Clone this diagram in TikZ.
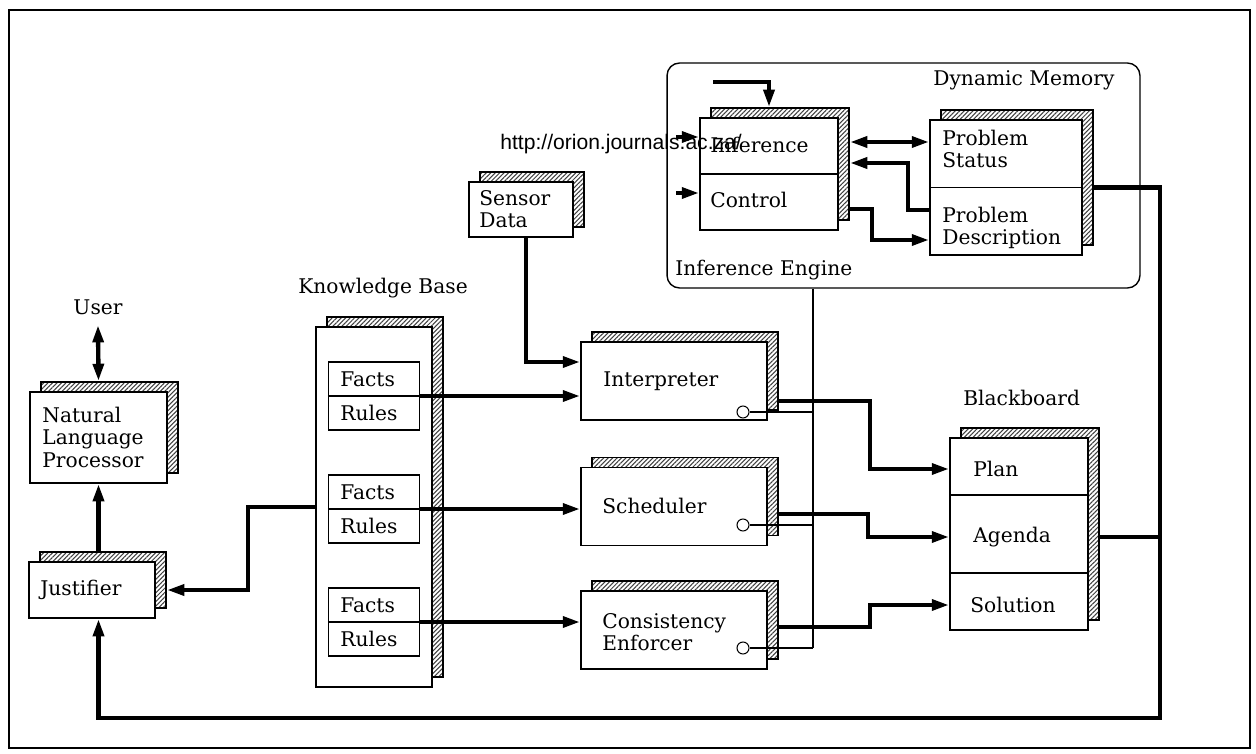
\documentclass[tikz,border=0pt]{standalone}
\usepackage{fontspec}
\setmainfont{DejaVu Serif}
\newfontfamily\urlfont{Liberation Sans}
\usetikzlibrary{arrows.meta,shadows,patterns.meta}

\tikzset{
  >={Triangle[length=10pt,width=6pt]},
  box/.style={draw, line width=0.8pt, fill=white, inner sep=0pt},
  shbox/.style={box, general shadow={shadow xshift=0.22cm, shadow yshift=0.2cm, draw, line width=0.8pt,
      pattern={Lines[angle=45,distance=1.8pt,line width=0.6pt]}, pattern color=black!75}},
  txt/.style={anchor=west, align=left, inner sep=0pt},
  heavy/.style={line width=2.5pt},
  fine/.style={line width=0.6pt},
  sep/.style={line width=0.8pt},
  port/.style={circle, draw, fine, fill=white, minimum size=0.24cm, inner sep=0pt},
  every node/.append style={font=\fontsize{11.5}{12.8}\selectfont}
}

\begin{document}
\begin{tikzpicture}[x=0.02cm, y=-0.02cm]
\useasboundingbox (0,0) rectangle (1256,753);
\draw[line width=0.7pt] (9,10) rectangle (1250,748);

% inference engine with dynamic memory
\node[draw, line width=0.8pt, rounded corners=0.25cm, minimum width=9.46cm, minimum height=4.5cm] (ie) at (903.5,175.5) {};
\node[txt] (dm) at (933,80) {Dynamic Memory};
\node[txt] (ien) at (675,270) {Inference Engine};

\node[shbox, minimum width=2.76cm, minimum height=2.24cm] (ic) at (769,174) {};
\draw[sep] (ic.west) -- (ic.east);
\node[txt] (inf) at (710,145) {Inference};
\node[txt] (ctl) at (710,200) {Control};

\node[shbox, minimum width=3.04cm, minimum height=2.7cm] (pb) at (1006,187.5) {};
\draw[sep] (pb.west) -- (pb.east);
\node[txt] (pst) at (942,149) {Problem\\Status};
\node[txt] (pds) at (942,228) {Problem\\Description};

\coordinate (ctlin) at (713,82);
\coordinate (infin) at (676,137);
\coordinate (ctrin) at (676,193);
\draw[heavy,->] (ctlin) -| ([yshift=0.2cm]ic.north);
\draw[heavy,->] (infin) -- (infin -| ic.west);
\draw[heavy,->] (ctrin) -- (ctrin -| ic.west);
\draw[heavy,<->] ([xshift=0.22cm]ic.east |- 0,142) -- (pb.west |- 0,142);
\draw[heavy,->] (pb.west |- 0,210) -| (908,163) -- ([xshift=0.22cm]ic.east |- 0,163);
\draw[heavy,->] ([xshift=0.22cm]ic.east |- 0,209) -| (872,240) -- (pb.west |- 0,240);

% sensor data
\node[shbox, minimum width=2.08cm, minimum height=1.1cm] (sd) at (521,209.5) {};
\node[txt] (sdt) at (479,209) {Sensor\\Data};

% processors
\node[shbox, minimum width=3.72cm, minimum height=1.56cm] (ip) at (674,381) {};
\node[txt] (ipt) at (603,381) {Interpreter};
\node[port] (ipo) at (743,412) {};
\node[shbox, minimum width=3.72cm, minimum height=1.56cm] (sc) at (674,506.5) {};
\node[txt] (sct) at (602,506) {Scheduler};
\node[port] (sco) at (743,525) {};
\node[shbox, minimum width=3.72cm, minimum height=1.56cm] (ce) at (674,630) {};
\node[txt] (cet) at (602,632) {Consistency\\Enforcer};
\node[port] (ceo) at (743,648) {};

\coordinate (bus) at (813,648);
\draw[fine] (ie.south -| bus) -- (bus);
\draw[fine] (ipo) -- (ipo -| bus);
\draw[fine] (sco) -- (sco -| bus);
\draw[fine] (ceo) -- (bus);

\draw[heavy,->] ([xshift=0.1cm]sd.south) |- (ip.west |- 0,362);

% blackboard
\node[txt] (bbl) at (963,398) {Blackboard};
\node[shbox, minimum width=2.76cm, minimum height=3.84cm] (bb) at (1019,534) {};
\draw[sep] (bb.west |- 0,495) -- (bb.east |- 0,495);
\draw[sep] (bb.west |- 0,573) -- (bb.east |- 0,573);
\node[txt] (pl) at (973,469) {Plan};
\node[txt] (ag) at (973,537) {Agenda};
\node[txt] (so) at (970,605) {Solution};

\draw[heavy,->] ([xshift=0.22cm]ip.east |- 0,401) -| (870,469) -- (bb.west |- pl);
\draw[heavy,->] ([xshift=0.22cm]sc.east |- 0,514) -| (868,537) -- (bb.west |- ag);
\draw[heavy,->] ([xshift=0.22cm]ce.east |- 0,627) -| (870,605) -- (bb.west |- so);

% knowledge base
\node[txt, anchor=center] (kbl) at (383,288) {Knowledge Base};
\node[shbox, minimum width=2.32cm, minimum height=7.2cm] (kb) at (374,507) {};
\foreach \n/\y in {1/396, 2/509, 3/622} {
  \node[box, minimum width=1.82cm, minimum height=1.36cm] (fr\n) at (374,\y) {};
  \draw[sep] (fr\n.west) -- (fr\n.east);
  \node[txt] (fa\n) at (340,\y-17) {Facts};
  \node[txt] (ru\n) at (340,\y+17) {Rules};
}
\draw[heavy,->] (fr1.east) -- (fr1.east -| ip.west);
\draw[heavy,->] (fr2.east) -- (fr2.east -| sc.west);
\draw[heavy,->] (fr3.east) -- (fr3.east -| ce.west);

% user side
\node[txt, anchor=center] (usr) at (98,307) {User};
\node[shbox, minimum width=2.74cm, minimum height=1.82cm] (nlp) at (98.5,437.5) {};
\node[txt] (nlpt) at (42,437) {Natural\\Language\\Processor};
\node[shbox, minimum width=2.52cm, minimum height=1.12cm] (js) at (92,590) {};
\node[txt] (jst) at (40,590) {Justifier};

\draw[heavy,<->] ([yshift=-0.2cm]usr.south) -- ([yshift=0.2cm]nlp.north);
\draw[heavy,->] ([yshift=0.2cm]js.north -| nlp.south) -- (nlp.south);
\draw[heavy,->] (kb.west) -| (248,590) -- ([xshift=0.22cm]js.east);

% feedback loop
\coordinate (loop) at (1160,718);
\draw[heavy,->] ([xshift=0.22cm]pb.east) -| (loop) -| (js.south -| nlp.south);
\draw[heavy] ([xshift=0.22cm]bb.east |- ag) -- (loop |- ag);

\node[txt, font=\urlfont\fontsize{12}{14}\selectfont] (url) at (500,144) {http://orion.journals.ac.za/};
\end{tikzpicture}
\end{document}
